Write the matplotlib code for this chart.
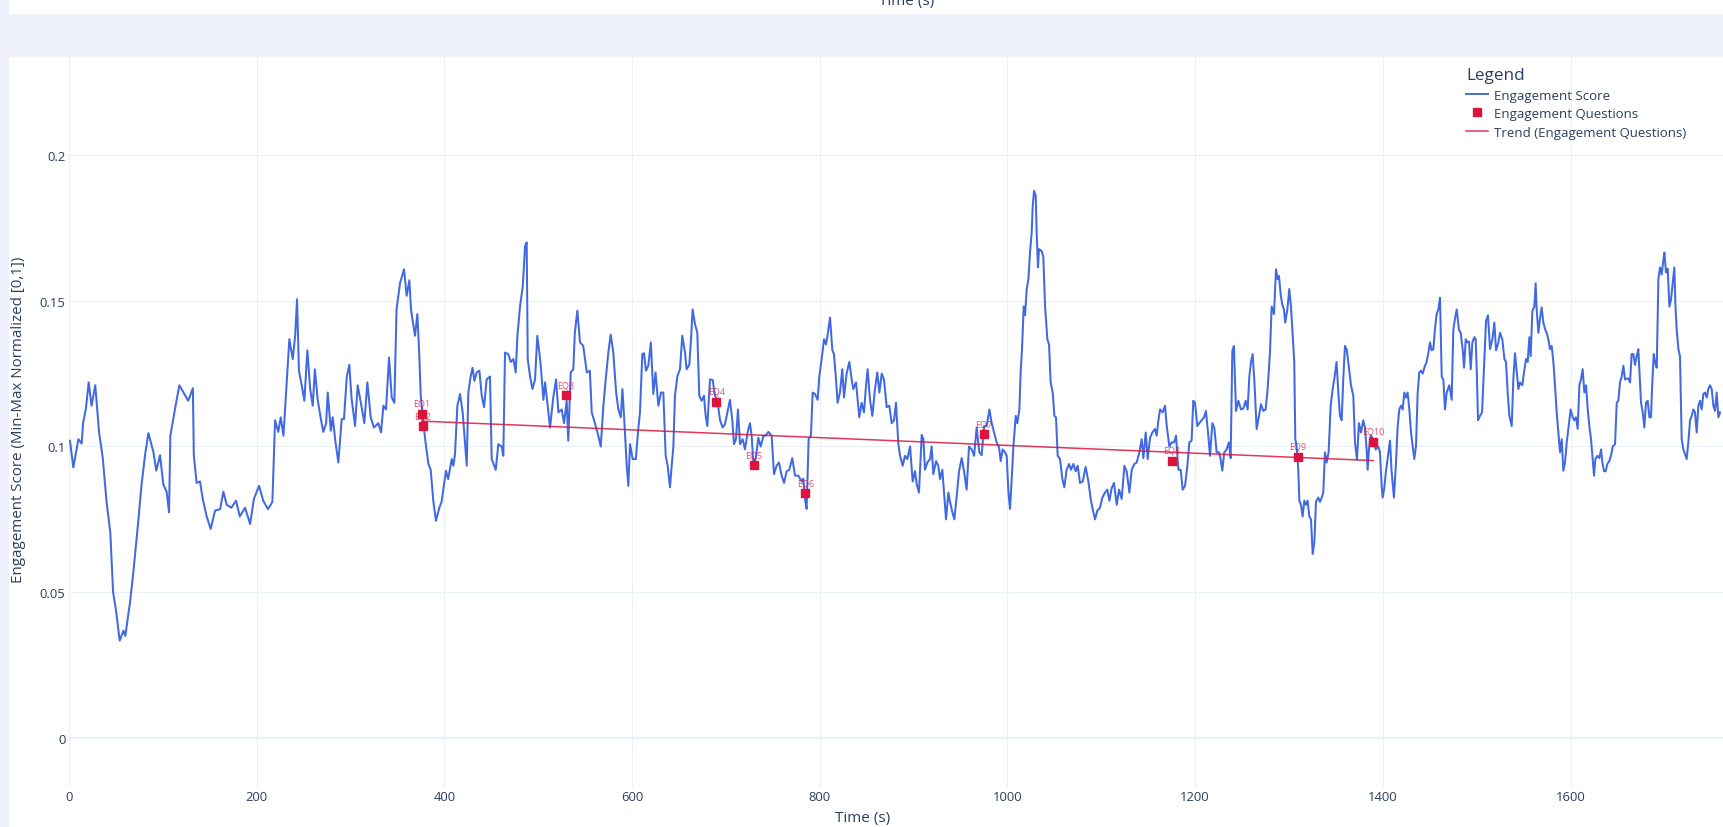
import numpy as np
import matplotlib
matplotlib.use("Agg")
import matplotlib.pyplot as plt
from matplotlib.lines import Line2D
from matplotlib.patches import Rectangle

# engagement score trace (time in s, min-max normalized score)
engagement_trace = [
    (0, 0.102), (1, 0.102), (4.6, 0.0928), (7.5, 0.098), (10, 0.1025), (13.5, 0.101), (15, 0.108),
    (18, 0.113), (21, 0.122), (24, 0.114), (28, 0.121), (32, 0.105), (36, 0.096), (40, 0.081),
    (44, 0.0705), (47, 0.050), (50, 0.044), (54, 0.0334), (58, 0.0368), (60, 0.035), (65, 0.0465),
    (68.6, 0.057), (74, 0.075), (77, 0.086), (81, 0.097), (84.6, 0.1046), (90, 0.098), (93, 0.0917),
    (97, 0.097), (100.5, 0.087), (104, 0.0845), (106.6, 0.0774), (108, 0.1037), (113, 0.113),
    (117.6, 0.121), (122, 0.1185), (127, 0.1157), (132, 0.120), (133, 0.097), (136, 0.0875),
    (139.6, 0.088), (142.5, 0.082), (146.7, 0.076), (151, 0.0717), (155.6, 0.078), (161, 0.0785),
    (164.5, 0.0845), (168, 0.080), (173, 0.079), (178, 0.0814), (182, 0.076), (187.6, 0.079),
    (193, 0.0734), (197, 0.082), (202.5, 0.0865), (207, 0.0814), (212, 0.0785), (216.7, 0.081),
    (219.6, 0.109), (223, 0.105), (225.6, 0.110), (228.5, 0.1037), (232, 0.122), (234.8, 0.1368),
    (238.4, 0.130), (241, 0.138), (243, 0.1505), (245, 0.126), (248, 0.121), (250.8, 0.1157),
    (254, 0.133), (257, 0.1197), (259.7, 0.114), (262, 0.1265), (265, 0.116), (268.6, 0.109),
    (271, 0.105), (274, 0.108), (275.7, 0.1185), (279, 0.1054), (281, 0.110), (284, 0.1014),
    (287, 0.0945), (290.6, 0.1094), (293, 0.1094), (296, 0.124), (298.7, 0.128), (301, 0.1168),
    (304.8, 0.107), (307.6, 0.121), (311, 0.115), (314.7, 0.108), (317.9, 0.122), (321.5, 0.110),
    (325, 0.1065), (329.6, 0.108), (332.5, 0.1048), (335, 0.114), (337.8, 0.1127), (341, 0.1305),
    (343.9, 0.1168), (346.7, 0.115), (349, 0.147), (352.7, 0.156), (357, 0.1608), (359.8, 0.1517),
    (362.7, 0.157), (364.5, 0.1467), (368.7, 0.138), (371.2, 0.1454), (373.3, 0.131), (374.8, 0.1174),
    (377.6, 0.1077), (380.4, 0.1002), (383, 0.094), (385.4, 0.092), (388.3, 0.081), (391, 0.0745),
    (394.6, 0.079), (397, 0.081), (401.7, 0.0917), (404, 0.0888), (407.8, 0.0957), (409.6, 0.0934),
    (411.3, 0.0974), (413.8, 0.114), (416.7, 0.118), (419.5, 0.1117), (422, 0.101), (423.8, 0.0934),
    (425.5, 0.1185), (428, 0.124), (430, 0.127), (432, 0.1225), (434.4, 0.1254), (437.3, 0.126),
    (439.8, 0.1174), (442.3, 0.1135), (445, 0.123), (448.6, 0.124), (450.4, 0.0957), (454.7, 0.092),
    (457.5, 0.1008), (461, 0.100), (462.8, 0.0968), (464.6, 0.1322), (468, 0.1317), (470.7, 0.129),
    (473.5, 0.130), (476, 0.1254), (477.8, 0.138), (480.6, 0.148), (483.5, 0.155), (486, 0.1688),
    (487.7, 0.170), (488.8, 0.130), (491.3, 0.124), (493.8, 0.1197), (496.6, 0.123), (499, 0.138),
    (501.2, 0.1322), (503, 0.1265), (505.5, 0.116), (507.3, 0.122), (510.8, 0.1117), (512.6, 0.1065),
    (516, 0.1168), (519, 0.123), (521.5, 0.1117), (525, 0.1127), (527.5, 0.108), (530.3, 0.1157),
    (532, 0.102), (534.6, 0.1254), (537.4, 0.1265), (539, 0.139), (541.7, 0.1466), (544.5, 0.1357),
    (548, 0.1345), (551.7, 0.1254), (555, 0.126), (557, 0.1117), (559.5, 0.109), (561.6, 0.1065),
    (564, 0.1037), (566.6, 0.100), (569.4, 0.114), (571.9, 0.123), (574.7, 0.1322), (577.2, 0.1384),
    (580, 0.1322), (583, 0.1185), (585.4, 0.1127), (588, 0.110), (589.7, 0.1197), (591.5, 0.110),
    (594.3, 0.0934), (596, 0.0865), (597.8, 0.1008), (600.6, 0.0957), (604, 0.0957), (606.6, 0.106),
    (608.4, 0.1117), (610.9, 0.1317), (612.7, 0.132), (614.8, 0.126), (617.3, 0.1277), (620, 0.1357),
    (622.6, 0.118), (625, 0.1254), (628, 0.114), (630.8, 0.1185), (633.3, 0.1185), (635.8, 0.0968),
    (637.9, 0.0934), (640.4, 0.086), (642.2, 0.0934), (644, 0.100), (645.7, 0.1174), (648.2, 0.124),
    (651, 0.1265), (653.5, 0.138), (656.4, 0.1322), (658.1, 0.1265), (661, 0.128), (662.8, 0.1368),
    (664.5, 0.147), (667, 0.142), (669.5, 0.139), (671.6, 0.1174), (674.1, 0.1157), (676.6, 0.1174),
    (678.4, 0.1105), (680.2, 0.107), (683, 0.123), (685.9, 0.1228), (688.3, 0.1174), (690.8, 0.116),
    (693.7, 0.109), (696.5, 0.1065), (699, 0.1077), (701.5, 0.1117), (704.3, 0.116), (706.8, 0.109),
    (708.6, 0.1008), (710.7, 0.1025), (712.8, 0.1127), (715, 0.1008), (717.8, 0.1025), (720.3, 0.099),
    (723.1, 0.1048), (725.6, 0.108), (727.4, 0.1037), (729.2, 0.0945), (731.7, 0.0957), (734.5, 0.103),
    (737, 0.100), (740, 0.1037), (742.3, 0.1037), (745.2, 0.105), (748.7, 0.1037), (751.2, 0.0905),
    (754, 0.0934), (756.5, 0.0945), (759.4, 0.090), (761.9, 0.0875), (764.7, 0.0915), (767.5, 0.092),
    (770.7, 0.096), (773.6, 0.090), (777.1, 0.090), (780.7, 0.088), (782.5, 0.089), (784.6, 0.081),
    (786, 0.0786), (788.1, 0.1025), (790.6, 0.1037), (792.4, 0.1185), (794.9, 0.118), (797.7, 0.116),
    (799.5, 0.124), (802, 0.130), (804.5, 0.1368), (806.6, 0.135), (808, 0.1375), (810.9, 0.1442),
    (813.4, 0.133), (815.1, 0.1317), (817.3, 0.123), (819, 0.115), (821.5, 0.1185), (824, 0.1265),
    (825.8, 0.1168), (828.6, 0.125), (831.5, 0.129), (834, 0.123), (835.7, 0.1197), (838.6, 0.122),
    (840.4, 0.1157), (842.1, 0.110), (844.6, 0.115), (847.1, 0.1117), (849.3, 0.121), (851, 0.1265),
    (853.5, 0.116), (856, 0.1105), (858.8, 0.1197), (861.3, 0.1254), (863.5, 0.1185), (866, 0.125),
    (868.4, 0.123), (871.3, 0.1135), (874.1, 0.114), (876.6, 0.108), (879.1, 0.109), (881.2, 0.115),
    (883.7, 0.101), (885.5, 0.0968), (888.3, 0.0934), (890.8, 0.0968), (893.3, 0.0957), (896.2, 0.100),
    (899, 0.088), (901.5, 0.0915), (903.3, 0.087), (905.7, 0.0842), (908.6, 0.104), (910.4, 0.1025),
    (912.1, 0.092), (914.6, 0.0945), (917.5, 0.0957), (919.2, 0.100), (921, 0.0905), (923.9, 0.095),
    (926.3, 0.0934), (928.1, 0.0888), (930.6, 0.092), (932.7, 0.083), (934.5, 0.075), (937, 0.0842),
    (938.8, 0.081), (941.3, 0.0774), (943.4, 0.075), (945.9, 0.083), (948.4, 0.0915), (951.2, 0.096),
    (953.7, 0.0915), (956.5, 0.0852), (959, 0.100), (961.9, 0.099), (964.4, 0.0968), (967.2, 0.1065),
    (970, 0.098), (972.5, 0.097), (975, 0.107), (977.9, 0.107), (980.7, 0.1127), (983.2, 0.108),
    (985.7, 0.1048), (988.5, 0.1014), (991, 0.0997), (992.8, 0.095), (994.9, 0.099), (997.4, 0.098),
    (999.2, 0.0968), (1001, 0.0842), (1002.7, 0.0786), (1004.5, 0.0888), (1006.3, 0.100),
    (1008.8, 0.1105), (1010.5, 0.108), (1012.7, 0.1127), (1014, 0.1254), (1015.5, 0.1334),
    (1017.3, 0.148), (1018.7, 0.145), (1020.5, 0.154), (1022.3, 0.1574), (1024, 0.1665),
    (1025.8, 0.1734), (1026.9, 0.1825), (1028.3, 0.1877), (1030.1, 0.186), (1031.1, 0.1734),
    (1032.5, 0.1614), (1033.6, 0.1677), (1036.5, 0.167), (1038.2, 0.165), (1040, 0.1485),
    (1042.5, 0.1368), (1044.3, 0.135), (1046, 0.122), (1048.2, 0.1185), (1050, 0.1105), (1051.7, 0.110),
    (1053.5, 0.0968), (1056, 0.0957), (1058.5, 0.0888), (1060.6, 0.086), (1063, 0.092), (1065.6, 0.094),
    (1067.7, 0.092), (1070.2, 0.094), (1072.7, 0.0915), (1074.8, 0.0934), (1077.3, 0.0875),
    (1080.2, 0.088), (1083.3, 0.093), (1086.2, 0.088), (1088.7, 0.082), (1090.8, 0.0785), (1093.3, 0.075),
    (1095.8, 0.078), (1098.6, 0.079), (1101.1, 0.0825), (1104, 0.0842), (1106.4, 0.0852),
    (1108.6, 0.0814), (1111, 0.0857), (1113.5, 0.0875), (1116.4, 0.080), (1118.9, 0.0852),
    (1121.7, 0.082), (1124.6, 0.0934), (1127, 0.0915), (1129.9, 0.0842), (1132.4, 0.092), (1135.2, 0.094),
    (1137.7, 0.0945), (1140.5, 0.098), (1143, 0.1025), (1144.8, 0.096), (1147.3, 0.1048),
    (1149.4, 0.0957), (1151.9, 0.103), (1154.4, 0.1048), (1157.2, 0.106), (1159, 0.1037), (1160.8, 0.109),
    (1162.6, 0.1127), (1165.4, 0.1117), (1167.9, 0.114), (1169.7, 0.107), (1172.5, 0.100),
    (1175, 0.1014), (1177.5, 0.1014), (1179.6, 0.1037), (1182.1, 0.092), (1184.6, 0.092),
    (1186.7, 0.0852), (1189.2, 0.0865), (1191.7, 0.0934), (1193.8, 0.1014), (1196.2, 0.102),
    (1198, 0.1157), (1199.8, 0.115), (1202.3, 0.107), (1204.4, 0.108), (1206.9, 0.109), (1209.4, 0.110),
    (1211.5, 0.1122), (1214, 0.1037), (1215.8, 0.0968), (1218.3, 0.108), (1220.4, 0.1065),
    (1222.9, 0.098), (1225.4, 0.098), (1227.1, 0.0957), (1228.9, 0.0917), (1231, 0.098), (1233.5, 0.099),
    (1236, 0.1014), (1237.8, 0.096), (1239.6, 0.1328), (1241.3, 0.1345), (1243.5, 0.1122),
    (1246, 0.1157), (1248.8, 0.1127), (1251.3, 0.113), (1253.8, 0.1157), (1255.9, 0.1127),
    (1257.7, 0.124), (1259.5, 0.129), (1261.2, 0.1317), (1263, 0.123), (1265.5, 0.106), (1268, 0.1105),
    (1270.1, 0.1145), (1272.6, 0.1122), (1275.1, 0.1127), (1277.2, 0.1197), (1279.7, 0.1322),
    (1281.5, 0.148), (1284, 0.1454), (1286.1, 0.1608), (1287.9, 0.1574), (1289.3, 0.1585),
    (1291.1, 0.1522), (1292.8, 0.1487), (1294.6, 0.147), (1296, 0.1425), (1298.2, 0.147),
    (1300.3, 0.154), (1302.1, 0.148), (1303.9, 0.138), (1305.6, 0.129), (1306.7, 0.1025),
    (1308.1, 0.100), (1309.9, 0.092), (1311, 0.0814), (1312.7, 0.080), (1314.5, 0.076), (1316.3, 0.0814),
    (1318.1, 0.080), (1319.8, 0.0814), (1321.6, 0.076), (1323.4, 0.075), (1325.2, 0.0631),
    (1327, 0.0672), (1328.7, 0.081), (1331.2, 0.0825), (1333, 0.081), (1334.8, 0.0825),
    (1336.5, 0.0842), (1338.3, 0.098), (1340.1, 0.0945), (1342.2, 0.098), (1344.4, 0.114),
    (1346.5, 0.1197), (1348.3, 0.1233), (1350.7, 0.129), (1352.5, 0.1185), (1354.3, 0.1105),
    (1356.1, 0.109), (1357.8, 0.123), (1359.6, 0.1345), (1361.4, 0.1334), (1363.9, 0.127), (1366, 0.121),
    (1368.5, 0.1174), (1370.3, 0.1014), (1372.4, 0.0955), (1374.5, 0.108), (1376.7, 0.1048),
    (1379.1, 0.109), (1380.9, 0.1065), (1382.7, 0.099), (1383.8, 0.092), (1385.2, 0.099), (1387, 0.1037),
    (1389.8, 0.1025), (1392.3, 0.099), (1395.1, 0.100), (1396.9, 0.098), (1398.7, 0.0865),
    (1399.8, 0.0825), (1401.5, 0.0857), (1403.3, 0.0915), (1405.1, 0.096), (1407.6, 0.102),
    (1409.3, 0.0915), (1411.8, 0.0825), (1414, 0.0945), (1415.7, 0.1065), (1417.5, 0.1127),
    (1419.3, 0.114), (1421.1, 0.1127), (1422.9, 0.1185), (1424.6, 0.1168), (1426.4, 0.1185),
    (1428.2, 0.1127), (1430, 0.1048), (1431.7, 0.1002), (1433.5, 0.0957), (1435.3, 0.1002),
    (1437.1, 0.1185), (1438.8, 0.1254), (1440.6, 0.126), (1442.4, 0.125), (1444.9, 0.1277),
    (1446.6, 0.129), (1448.4, 0.132), (1450.2, 0.1357), (1452, 0.133), (1453.8, 0.1334),
    (1455.5, 0.1403), (1457.3, 0.1454), (1459.1, 0.147), (1460.9, 0.151), (1462.7, 0.124),
    (1464.5, 0.1228), (1466.2, 0.1127), (1468, 0.1185), (1470.8, 0.121), (1473.3, 0.116),
    (1475.1, 0.140), (1476.9, 0.144), (1478.7, 0.147), (1481.1, 0.140), (1482.9, 0.139), (1485, 0.1334),
    (1486.5, 0.127), (1488.3, 0.1368), (1490, 0.1357), (1491.8, 0.136), (1493.6, 0.1265),
    (1495.4, 0.1357), (1497.5, 0.1375), (1498.9, 0.1368), (1500, 0.1265), (1501.4, 0.109),
    (1503.5, 0.1105), (1505.7, 0.1117), (1507.8, 0.1277), (1509.9, 0.143), (1512, 0.145),
    (1514.2, 0.1334), (1516.7, 0.1368), (1518.8, 0.1425), (1520.6, 0.133), (1523.1, 0.1357),
    (1524.8, 0.139), (1527.3, 0.1368), (1529.5, 0.130), (1531.2, 0.129), (1533, 0.1185),
    (1534.8, 0.1105), (1537.3, 0.107), (1539, 0.123), (1540.8, 0.132), (1542.6, 0.126),
    (1544.4, 0.1197), (1546.1, 0.122), (1548.6, 0.121), (1550.4, 0.1254), (1552.5, 0.130),
    (1554.3, 0.129), (1556.1, 0.1375), (1557.5, 0.131), (1559.3, 0.1465), (1561.4, 0.148),
    (1562.8, 0.156), (1563.9, 0.147), (1565.7, 0.139), (1567.4, 0.1437), (1569.2, 0.1477),
    (1571, 0.1425), (1573.1, 0.140), (1574.6, 0.139), (1576.3, 0.1368), (1578.1, 0.1334),
    (1579.9, 0.1345), (1581.7, 0.129), (1583.4, 0.121), (1585.2, 0.1117), (1587, 0.1048),
    (1588.8, 0.098), (1590.6, 0.1025), (1592.3, 0.0917), (1594.1, 0.0945), (1595.9, 0.1014),
    (1598.4, 0.108), (1600.1, 0.1127), (1602.3, 0.110), (1604, 0.109), (1605.8, 0.110), (1607.6, 0.106),
    (1609.4, 0.121), (1611.1, 0.123), (1612.9, 0.1265), (1614.7, 0.1185), (1616.5, 0.121),
    (1618.3, 0.1127), (1620, 0.107), (1621.8, 0.1025), (1623.6, 0.0957), (1625, 0.090),
    (1626.4, 0.0957), (1628.6, 0.0968), (1630.7, 0.096), (1632.5, 0.099), (1633.9, 0.0945),
    (1635.7, 0.0915), (1637.4, 0.0915), (1639.2, 0.094), (1641.3, 0.095), (1643.1, 0.0968),
    (1644.9, 0.100), (1647.4, 0.1008), (1649.2, 0.115), (1650.9, 0.1157), (1652.7, 0.122),
    (1654.5, 0.124), (1656.3, 0.1277), (1658, 0.123), (1659.8, 0.1233), (1661.6, 0.1233),
    (1663.4, 0.122), (1665.1, 0.1317), (1666.9, 0.1317), (1668.7, 0.128), (1670.5, 0.131),
    (1672.2, 0.1334), (1673.3, 0.1265), (1675.1, 0.115), (1676.9, 0.1117), (1678.6, 0.1065),
    (1680.4, 0.115), (1682.2, 0.1157), (1684, 0.110), (1685.7, 0.110), (1686.8, 0.1197),
    (1688.6, 0.1317), (1690, 0.129), (1691.8, 0.127), (1693.6, 0.1574), (1695.3, 0.1614),
    (1697.1, 0.159), (1698.9, 0.164), (1700, 0.1665), (1701.7, 0.1597), (1703.5, 0.161),
    (1705.3, 0.148), (1707.1, 0.1505), (1708.8, 0.156), (1710.6, 0.1614), (1711.7, 0.1488),
    (1713.1, 0.140), (1714.9, 0.1334), (1716.6, 0.131), (1718.4, 0.1025), (1720.2, 0.099),
    (1722, 0.0974), (1723.7, 0.0957), (1725.5, 0.1014), (1727.3, 0.109), (1729.1, 0.1105),
    (1730.9, 0.1127), (1732.6, 0.1117), (1734.4, 0.1048), (1736.2, 0.114), (1738, 0.1157),
    (1739.7, 0.1127), (1741.5, 0.118), (1743.3, 0.1185), (1745.1, 0.1168), (1746.8, 0.1197),
    (1748.6, 0.121), (1750.4, 0.1197), (1752.2, 0.114), (1753.9, 0.1122), (1755.7, 0.1185),
    (1757.5, 0.110), (1759.3, 0.1117),
]
time_s = [p[0] for p in engagement_trace]
score = [p[1] for p in engagement_trace]

# engagement questions
eq_labels = ["EQ1", "EQ2", "EQ3", "EQ4", "EQ5", "EQ6", "EQ7", "EQ8", "EQ9", "EQ10"]
eq_time = [375.8, 376.9, 529.6, 689.8, 729.5, 784.6, 974.7, 1175.0, 1309.5, 1389.8]
eq_score = [0.1113, 0.1069, 0.1175, 0.1153, 0.0936, 0.0839, 0.1042, 0.0951, 0.0965, 0.1016]

TXT = "#2a3f5f"
GRID = "#ebf0f8"
plt.rcParams["font.family"] = ["Open Sans", "DejaVu Sans"]

W, H = 1724, 828
fig = plt.figure(figsize=(W / 100, H / 100), dpi=100, facecolor="white")

# lavender page strips (top band + left edge)
fig.patches.append(Rectangle((0, 1 - 57.7 / H), 1, (57.7 - 14.5) / H, transform=fig.transFigure,
                             facecolor="#eef1fc", edgecolor="none", zorder=0))
fig.patches.append(Rectangle((0, 0), 9 / W, 1, transform=fig.transFigure,
                             facecolor="#eef1fc", edgecolor="none", zorder=0))

ax = fig.add_axes([69 / W, 1 - 788 / H, (W - 69) / W, (788 - 57.7) / H])
ax.set_facecolor("white")
for s in ax.spines.values():
    s.set_visible(False)

ax.set_xlim(0, 1763.5)
ax.set_ylim(-0.0168, 0.2337)
ax.set_xticks(np.arange(0, 1800, 200))
ax.set_yticks([0, 0.05, 0.1, 0.15, 0.2])
ax.yaxis.set_major_formatter(plt.FuncFormatter(lambda v, p: f"{v:g}"))
ax.tick_params(length=0, labelsize=9.4, colors=TXT, pad=2.5)
ax.grid(True, color=GRID, lw=0.8, zorder=0)
ax.set_axisbelow(True)
ax.axhline(0, color=GRID, lw=1.5, zorder=0.5)
ax.axvline(0, color=GRID, lw=1.5, zorder=0.5)

ax.plot(time_s, score, color="#4169e1", lw=1.45, zorder=2, label="Engagement Score")

# linear trend through the question points
coef = np.polyfit(eq_time, eq_score, 1)
tx = np.array([min(eq_time), max(eq_time)])
ax.plot(tx, np.polyval(coef, tx), color="#dc143c", lw=1.1, alpha=0.85, zorder=3)

ax.plot(eq_time, eq_score, "s", color="#dc143c", ms=6.3, zorder=4, ls="none")
for lab, t, v in zip(eq_labels, eq_time, eq_score):
    ax.annotate(lab, (t, v), xytext=(0, 7.5), textcoords="offset points", ha="center",
                va="center", fontsize=6.5, color="#dc143c", alpha=0.75, zorder=5)

handles = [
    Line2D([], [], color="#4169e1", lw=1.4),
    Line2D([], [], color="#dc143c", marker="s", ms=6.3, ls="none"),
    Line2D([], [], color="#dc143c", lw=1.1, alpha=0.85),
]
leg = ax.legend(handles, ["Engagement Score", "Engagement Questions", "Trend (Engagement Questions)"],
                title="Legend", loc="upper left", bbox_to_anchor=(1466 / W, 1 - 68 / H),
                bbox_transform=fig.transFigure, frameon=False, borderpad=0, borderaxespad=0,
                handlelength=1.7, handletextpad=0.45, labelspacing=0.42, fontsize=9.5,
                title_fontsize=12.3, alignment="left")
for t in leg.get_texts():
    t.set_color(TXT)
leg.get_title().set_color(TXT)

fig.text(19 / W, 1 - 420 / H, "Engagement Score (Min-Max Normalized [0,1])", rotation=90,
         ha="center", va="center", fontsize=10.9, color=TXT)
fig.text(863 / W, 1 - 819 / H, "Time (s)", ha="center", va="center", fontsize=11, color=TXT)
# x title of the panel above, cut off at the top edge
fig.text(907 / W, 1 - 2 / H, "Time (s)", ha="center", va="center", fontsize=11, color=TXT)

fig.savefig("out.png", dpi=100, facecolor="white")
